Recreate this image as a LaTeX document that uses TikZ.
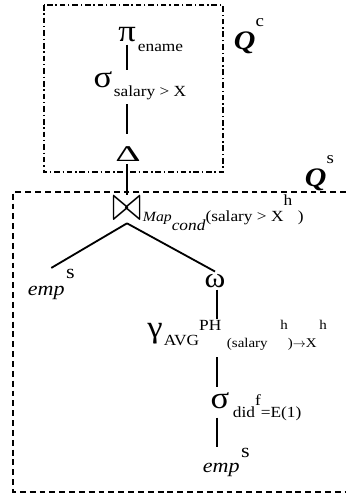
\documentclass[tikz,border=0pt]{standalone}
\usepackage{fontspec}
\setmainfont{Liberation Serif}[FakeStretch=1.12]
\usetikzlibrary{positioning}

\begin{document}
\begin{tikzpicture}[x=0.025cm, y=-0.025cm, line width=1.3pt,
    op/.style={font=\fontsize{22}{22}\selectfont, inner sep=1pt, anchor=base},
    lab/.style={font=\fontsize{11}{11}\selectfont, inner sep=0pt, anchor=base west},
    rel/.style={font=\fontsize{14}{14}\selectfont, inner sep=0pt, anchor=base west},
    qlab/.style={font=\fontsize{19}{19}\selectfont\bfseries\itshape, inner sep=0pt, anchor=base west}]
    \useasboundingbox (0,0) rectangle (346,497);

    % client side box Q^c
    \draw[line width=0.9pt, dash pattern=on 4pt off 2pt on 1pt off 2pt] (44,5) rectangle (223,172);
    \node[qlab] (qc) at (233,50) {Q\raisebox{17pt}{\upshape\mdseries\fontsize{12}{12}\selectfont c}};

    % server side box Q^s (open at the right)
    \draw[line width=0.9pt, dash pattern=on 4.2pt off 2.8pt] (346,192) -- (13,192) -- (13,492) -- (346,492);
    \node[qlab] (qs) at (304,187) {Q\raisebox{17pt}{\upshape\mdseries\fontsize{12}{12}\selectfont s}};

    % operators of the client part
    \node[op] (pi) at (127,42) {π};
    \node[lab] (pilab) at (137,52) {ename};
    \node[op] (sig1) at (103,88) {σ};
    \node[lab] (sig1lab) at (113,97) {salary > X};
    \node[op, font=\fontsize{20}{20}\selectfont] (delta) at (128,162) {\scalebox{1.25}[0.8]{Δ}};

    % join
    \node[op, font=\fontsize{24}{24}\selectfont] (join) at (127,221) {\scalebox{1}[1.45]{$\bowtie$}};
    \node[lab] (joinlab) at (142,222) {\fontsize{10}{10}\selectfont\textit{Map}\raisebox{-5.7pt}{\fontsize{11}{11}\selectfont\textit{cond}}\fontsize{11}{11}\selectfont(salary > X\raisebox{12pt}{h}\hspace{4pt})};

    % left branch
    \node[rel] (empl) at (27,295) {\textit{emp}\hspace{1pt}\raisebox{12pt}{s}};

    % right branch
    \node[op, font=\fontsize{20}{20}\selectfont] (omega) at (215,287) {ω};
    \node[op] (gam) at (155,337) {γ};
    \node[lab] (gamlab) at (163,345) {AVG\raisebox{10pt}{PH}\hspace{4pt}\raisebox{-2pt}{\fontsize{9.5}{9.5}\selectfont(salary\hspace{9pt}\raisebox{13pt}{h})$\rightarrow$X\hspace{2pt}\raisebox{13pt}{h}}};
    \node[op] (sig2) at (220,408) {σ};
    \node[lab] (sig2lab) at (232,417) {did\raisebox{8.5pt}{f}=E(1)};
    \node[rel] (empr) at (202,472) {\textit{emp}\hspace{1pt}\raisebox{10.5pt}{s}};

    % tree edges
    \draw (pi.south) -- (pi.south |- sig1.north);
    \draw[shorten <=2pt, shorten >=8pt] (pi.south |- sig1lab.south) -- (pi.south |- delta.north);
    \draw (pi.south |- delta.south) -- (join.north);
    \draw (join.south) -- (empl.north);
    \draw (join.south) -- (omega.north);
    \draw ([xshift=1.5pt]omega.south) -- ([xshift=1.5pt]omega.south |- gamlab.north);
    \draw[shorten <=4pt, shorten >=2pt] ([xshift=1.5pt]omega.south |- gamlab.south) -- ([xshift=1.5pt]omega.south |- sig2.north);
    \draw[shorten <=5pt] ([xshift=1.5pt]omega.south |- sig2.south) -- ([xshift=1.5pt]omega.south |- empr.north);
\end{tikzpicture}
\end{document}
